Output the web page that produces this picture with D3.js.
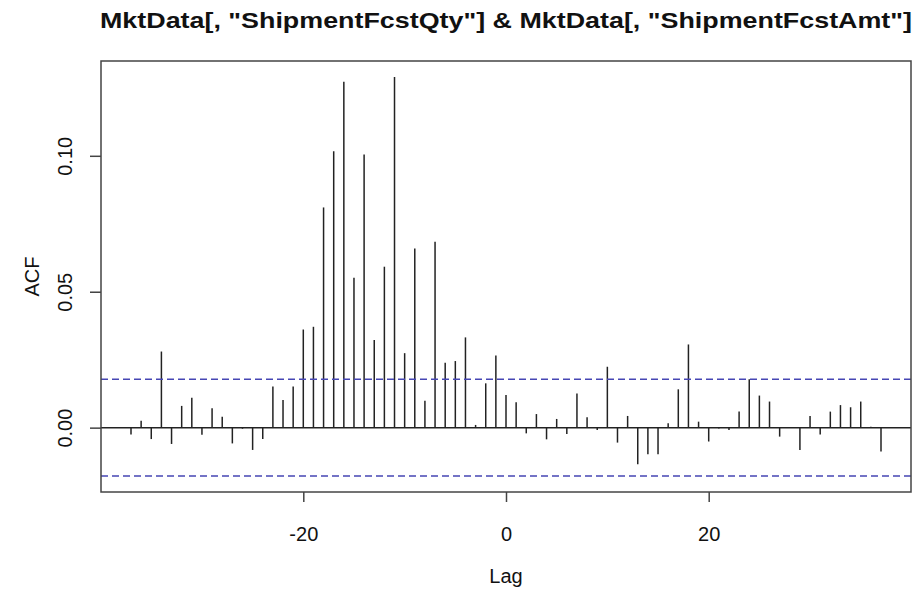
<!DOCTYPE html>
<html>
<head>
<meta charset="utf-8">
<script src="https://cdn.jsdelivr.net/npm/d3@7/dist/d3.min.js"></script>
<style>
  body { margin: 0; background: white; }
  text { font-family: "Liberation Sans", Arial, sans-serif; fill: #111; }
</style>
</head>
<body>
<div id="chart"></div>
<script>
// lags of the cross-correlation
var lags = [-37, -36, -35, -34, -33, -32, -31, -30, -29, -28, -27, -26, -25, -24, -23, -22, -21,
            -20, -19, -18, -17, -16, -15, -14, -13, -12, -11, -10, -9, -8, -7, -6, -5, -4, -3, -2, -1,
            0, 1, 2, 3, 4, 5, 6, 7, 8, 9, 10, 11, 12, 13, 14, 15, 16, 17, 18, 19,
            20, 21, 22, 23, 24, 25, 26, 27, 28, 29, 30, 31, 32, 33, 34, 35, 36, 37];

// ACF values
var acfValues = [-0.0025, 0.0025, -0.0042, 0.0280, -0.0060, 0.0080, 0.0110, -0.0026, 0.0071, 0.0040,
                 -0.0058, -0.0004, -0.0082, -0.0042, 0.0151, 0.0102, 0.0151,
                 0.0361, 0.0371, 0.0810, 0.1017, 0.1272, 0.0551, 0.1005, 0.0322, 0.0592, 0.1290,
                 0.0274, 0.0659, 0.0099, 0.0684, 0.0239, 0.0245, 0.0332, 0.0010, 0.0163, 0.0265,
                 0.0120, 0.0093, -0.0021, 0.0050, -0.0043, 0.0032, -0.0023, 0.0126, 0.0038, -0.0009,
                 0.0224, -0.0055, 0.0043, -0.0135, -0.0098, -0.0098, 0.0016, 0.0141, 0.0306, 0.0022,
                 -0.0051, -0.0003, -0.0009, 0.0059, 0.0178, 0.0118, 0.0096, -0.0033, 0.0002, -0.0082,
                 0.0043, -0.0025, 0.0059, 0.0083, 0.0075, 0.0096, 0.0003, -0.0088];

// confidence limit (blue dashed lines)
var ciLimit = 0.0178;

var xTicks = [-20, 0, 20];
var yTicks = [0.00, 0.05, 0.10];

var titleText = 'MktData[, "ShipmentFcstQty"] & MktData[, "ShipmentFcstAmt"]';

var width = 916, height = 593;
var plotLeft = 101, plotRight = 911, plotTop = 61, plotBottom = 492;

var points = lags.map(function(d, i) { return {lag: d, acf: acfValues[i]}; });

// R style 4% padding of the ranges
var xExt = d3.extent(lags);
var xPad = (xExt[1] - xExt[0]) * 0.04;
var yExt = d3.extent(acfValues.concat([ciLimit, -ciLimit]));
var yPad = (yExt[1] - yExt[0]) * 0.04;

var x = d3.scaleLinear()
          .domain([xExt[0] - xPad, xExt[1] + xPad])
          .range([plotLeft, plotRight]);

var y = d3.scaleLinear()
          .domain([yExt[0] - yPad, yExt[1] + yPad])
          .range([plotBottom, plotTop]);

var svg = d3.select("#chart").append("svg")
            .attr("width", width)
            .attr("height", height);

svg.append("rect")
   .attr("width", width)
   .attr("height", height)
   .attr("fill", "white");

// spikes
svg.selectAll("line.spike")
   .data(points)
   .enter()
   .append("line")
   .attr("class", "spike")
   .attr("x1", function(d) { return x(d.lag); })
   .attr("x2", function(d) { return x(d.lag); })
   .attr("y1", y(0))
   .attr("y2", function(d) { return y(d.acf); })
   .attr("stroke", "#222")
   .attr("stroke-width", 1.5);

// zero line
svg.append("line")
   .attr("x1", plotLeft)
   .attr("x2", plotRight)
   .attr("y1", y(0))
   .attr("y2", y(0))
   .attr("stroke", "#222")
   .attr("stroke-width", 1.5);

// confidence lines
svg.selectAll("line.ci")
   .data([ciLimit, -ciLimit])
   .enter()
   .append("line")
   .attr("class", "ci")
   .attr("x1", plotLeft)
   .attr("x2", plotRight)
   .attr("y1", function(d) { return y(d); })
   .attr("y2", function(d) { return y(d); })
   .attr("stroke", "#4646b4")
   .attr("stroke-width", 1.5)
   .attr("stroke-dasharray", "7,4");

// box
svg.append("rect")
   .attr("x", plotLeft)
   .attr("y", plotTop)
   .attr("width", plotRight - plotLeft)
   .attr("height", plotBottom - plotTop)
   .attr("fill", "none")
   .attr("stroke", "#444")
   .attr("stroke-width", 1.5);

// x axis
var xAxis = svg.append("g")
               .attr("transform", "translate(0," + plotBottom + ")")
               .call(d3.axisBottom(x)
                       .tickValues(xTicks)
                       .tickFormat(function(d) { return String(d); })
                       .tickSize(10)
                       .tickPadding(25));
xAxis.select(".domain").remove();
xAxis.selectAll("line").attr("stroke", "#444").attr("stroke-width", 1.5);
xAxis.selectAll("text")
     .attr("dy", "0.71em")
     .style("font-size", "20px")
     .style("font-family", "'Liberation Sans', Arial, sans-serif")
     .attr("fill", "#111");

// y axis, labels turned like R does
var yAxis = svg.append("g")
               .attr("transform", "translate(" + plotLeft + ",0)")
               .call(d3.axisLeft(y)
                       .tickValues(yTicks)
                       .tickFormat(d3.format(".2f"))
                       .tickSize(11));
yAxis.select(".domain").remove();
yAxis.selectAll("line").attr("stroke", "#444").attr("stroke-width", 1.5);
yAxis.selectAll("text")
     .attr("transform", "rotate(-90)")
     .attr("x", 0)
     .attr("y", -29)
     .attr("dy", 0)
     .attr("text-anchor", "middle")
     .style("font-size", "20px")
     .style("font-family", "'Liberation Sans', Arial, sans-serif")
     .attr("fill", "#111");

// titles
svg.append("text")
   .attr("x", (plotLeft + plotRight) / 2)
   .attr("y", 28)
   .attr("text-anchor", "middle")
   .attr("textLength", 812)
   .attr("lengthAdjust", "spacingAndGlyphs")
   .style("font-size", "22px")
   .style("font-weight", "bold")
   .text(titleText);

svg.append("text")
   .attr("x", (plotLeft + plotRight) / 2)
   .attr("y", 583)
   .attr("text-anchor", "middle")
   .style("font-size", "20px")
   .text("Lag");

svg.append("text")
   .attr("transform", "translate(39," + (plotTop + plotBottom) / 2 + ") rotate(-90)")
   .attr("text-anchor", "middle")
   .style("font-size", "20px")
   .text("ACF");
</script>
</body>
</html>
